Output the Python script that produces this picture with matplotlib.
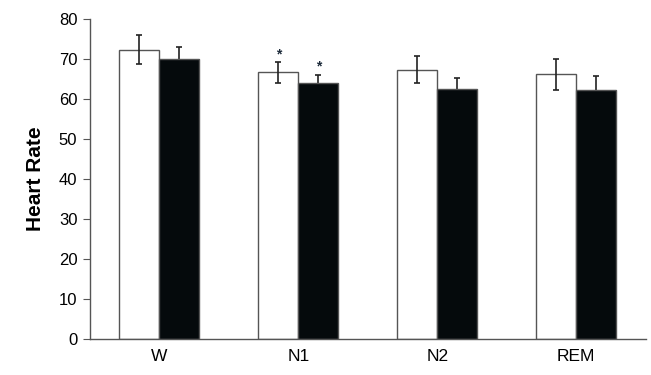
import numpy as np
import matplotlib.pyplot as plt

plt.rcParams.update({
    "font.family": ["Liberation Sans", "DejaVu Sans"],
    "axes.edgecolor": "#555",
    "axes.linewidth": 1.0,
})

STAGES = ["W", "N1", "N2", "REM"]
white_vals = [72.4, 66.7, 67.4, 66.2]
white_err  = [3.6, 2.6, 3.4, 3.9]
black_vals = [70.1, 64.1, 62.4, 62.2]
black_err  = [3.0, 2.0, 2.85, 3.6]
white_sig  = [False, True, False, False]
black_sig  = [False, True, False, False]

fig = plt.figure(figsize=(6.51, 3.75), dpi=100)
ax = fig.add_axes([0.138, 0.096, 0.854, 0.853])

x = np.arange(len(STAGES))
w = 0.288
ekw = dict(fmt="none", ecolor="#222", elinewidth=1.2, capsize=2.4, capthick=1.2)
ax.bar(x - w/2, white_vals, width=w, color="white", edgecolor="#555", lw=1.0, zorder=2)
ax.errorbar(x - w/2, white_vals, yerr=white_err, zorder=3, **ekw)
# barras negras: el error queda detras, solo se ve la mitad superior
ax.errorbar(x + w/2, black_vals, yerr=black_err, zorder=1, **ekw)
ax.bar(x + w/2, black_vals, width=w, color="#050a0c", edgecolor="#555", lw=1.0, zorder=2)

# asteriscos de significancia
for i in range(len(STAGES)):
    if white_sig[i]:
        ax.text(x[i] - w/2, white_vals[i] + white_err[i] + 0.2, "*",
                ha="center", va="bottom", fontsize=10, fontweight="bold", color="#1c2a3a")
    if black_sig[i]:
        ax.text(x[i] + w/2, black_vals[i] + black_err[i] + 0.2, "*",
                ha="center", va="bottom", fontsize=10, fontweight="bold", color="#1c2a3a")

ax.set_xlim(-0.5, len(STAGES) - 0.5)
ax.set_ylim(0, 80)
ax.set_yticks(range(0, 81, 10))
ax.set_xticks(x)
ax.set_xticklabels(STAGES, fontsize=12.5)
ax.tick_params(axis="x", length=0, pad=7)
ax.tick_params(axis="y", length=5, direction="out", labelsize=12, color="#555", pad=4)
ax.set_ylabel("Heart Rate", fontsize=15, fontweight="bold", labelpad=10)
ax.spines[["top", "right"]].set_visible(False)

plt.savefig("out.png", dpi=100)
